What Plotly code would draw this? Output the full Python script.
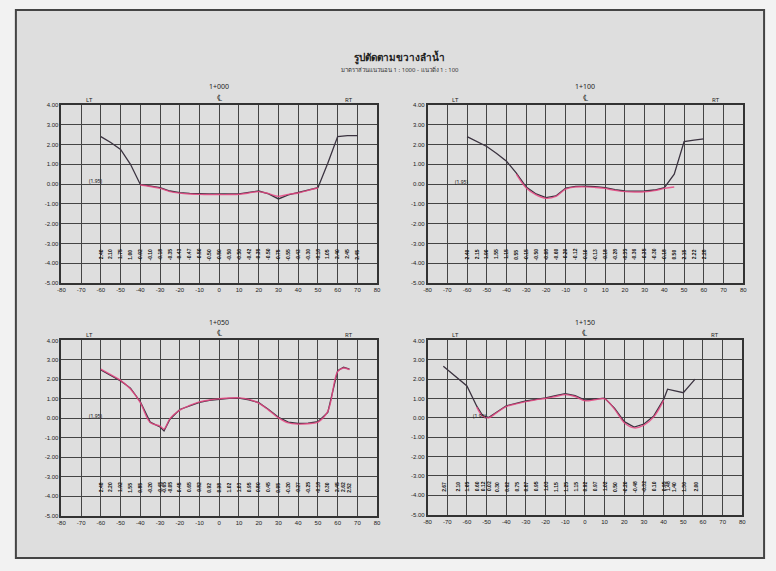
import plotly.graph_objects as go

# ---------------- data ----------------
panel_titles = ["1+000", "1+100", "1+050", "1+150"]
main_title = "รูปตัดตามขวางลำน้ำ"
sub_title = "มาตราส่วนแนวนอน 1 : 1000 - แนวดิ่ง 1 : 100"
level_label = "(1.95)"
side_labels = ["LT", "℄", "RT"]
side_label_x = [-66, 0, 66]
side_label_size = [6, 9, 6]

# panel 1 (top-left)
x1 = [-60, -55, -50, -45, -40, -35, -30, -25, -20, -15, -10, -5, 0, 5, 10, 15, 20, 25, 30, 35, 40, 45, 50, 55, 60, 65, 70]
g1 = [2.40, 2.10, 1.75, 1.00, -0.02, -0.10, -0.18, -0.35, -0.43, -0.47, -0.50, -0.50, -0.50, -0.50, -0.50, -0.42,
      -0.35, -0.50, -0.75, -0.55, -0.43, -0.30, -0.18, 1.05, 2.40, 2.45, 2.45]
p1 = [None, None, None, None, -0.05, -0.12, -0.22, -0.38, -0.46, -0.50, -0.52, -0.53, -0.53, -0.53, -0.52, -0.45,
      -0.38, -0.48, -0.62, -0.52, -0.45, -0.32, -0.20, None, None, None, None]

# panel 2 (top-right)
x2 = [-60, -55, -50, -45, -40, -35, -30, -25, -20, -15, -10, -5, 0, 5, 10, 15, 20, 25, 30, 35, 40, 45, 50, 55, 60]
g2 = [2.40, 2.15, 1.90, 1.55, 1.15, 0.55, -0.15, -0.50, -0.68, -0.60, -0.20, -0.12, -0.10, -0.13, -0.18, -0.28,
      -0.35, -0.36, -0.35, -0.30, -0.18, 0.50, 2.15, 2.22, 2.28]
p2 = [None, None, None, None, None, 0.50, -0.20, -0.55, -0.72, -0.62, -0.25, -0.15, -0.14, -0.17, -0.22, -0.32,
      -0.38, -0.40, -0.39, -0.33, -0.22, -0.15, None, None, None]

# panel 3 (bottom-left)
x3 = [-60, -55, -50, -45, -40, -35, -30, -28, -25, -20, -15, -10, -5, 0, 5, 10, 15, 20, 25, 30, 35, 40, 45, 50, 55, 60, 63, 66]
g3 = [2.48, 2.20, 1.92, 1.55, 0.85, -0.20, -0.45, -0.65, -0.05, 0.45, 0.65, 0.82, 0.92, 0.98, 1.02, 1.03, 0.95,
      0.80, 0.45, 0.05, -0.20, -0.27, -0.25, -0.18, 0.30, 2.45, 2.62, 2.52]
p3 = [2.52, 2.24, 1.95, 1.50, 0.80, -0.22, -0.40, -0.55, -0.02, 0.42, 0.66, 0.84, 0.94, 1.00, 1.04, 1.05, 0.97,
      0.78, 0.42, 0.02, -0.24, -0.30, -0.28, -0.20, 0.35, 2.40, 2.58, 2.50]

# panel 4 (bottom-right)
x4 = [-72, -65, -60, -55, -52, -49, -45, -40, -35, -30, -25, -20, -15, -10, -5, 0, 5, 10, 15, 20, 25, 30, 35, 40, 42, 45, 50, 56]
g4 = [2.67, 2.10, 1.65, 0.60, 0.12, 0.02, 0.30, 0.62, 0.75, 0.87, 0.95, 1.03, 1.15, 1.25, 1.15, 0.92, 0.97, 1.02,
      0.50, -0.20, -0.48, -0.32, 0.10, 0.95, 1.48, 1.40, 1.30, 2.00]
p4 = [None, None, None, 0.55, 0.08, 0.00, 0.26, 0.58, 0.72, 0.84, 0.93, 1.00, 1.10, 1.20, 1.10, 0.88, 0.93, 0.98,
      0.45, -0.25, -0.52, -0.38, 0.05, 0.90, None, None, None, None]

xs = [x1, x2, x3, x4]
gs = [g1, g2, g3, g4]
ps = [p1, p2, p3, p4]

x_ticks = list(range(-80, 81, 10))
y_ticks = [4, 3, 2, 1, 0, -1, -2, -3, -4, -5]

# ---------------- layout geometry ----------------
W, H = 776, 571
px_x = [(58, 377), (428, 747), (58, 377), (428, 746)]
px_y = [(103, 283), (103, 283), (341, 518), (341, 517)]
level_pos = [(-67, 0.15), (-67, 0.12), (-67, 0.10), (-58, 0.10)]

BG = "#dedede"
GRID = "#444444"

fig = go.Figure()

for i in range(4):
    n = "" if i == 0 else str(i + 1)
    xa = "x" + n
    ya = "y" + n
    fig.add_trace(go.Scatter(x=xs[i], y=gs[i], mode="lines", xaxis=xa, yaxis=ya,
                             line=dict(color="#3b3340", width=1.3), showlegend=False, hoverinfo="skip"))
    fig.add_trace(go.Scatter(x=xs[i], y=ps[i], mode="lines", xaxis=xa, yaxis=ya, connectgaps=False,
                             line=dict(color="rgba(232,70,130,0.85)", width=1.4, shape="spline"),
                             showlegend=False, hoverinfo="skip"))
    (x0, x1p), (yt, yb) = px_x[i], px_y[i]
    common = dict(showgrid=True, gridcolor=GRID, gridwidth=1.3, zeroline=False, showline=True,
                  linecolor="#333333", linewidth=1.5, mirror=True, ticks="",
                  tickfont=dict(size=6, color="#222222", family="Arial"))
    fig.layout["xaxis" + n] = dict(domain=[x0 / W, x1p / W], anchor=ya, range=[-80, 80],
                                   tickvals=x_ticks, ticktext=[str(t) for t in x_ticks], **common)
    fig.layout["yaxis" + n] = dict(domain=[1 - yb / H, 1 - yt / H], anchor=xa, range=[-5, 4],
                                   tickvals=y_ticks, ticktext=[f"{t:.2f}" for t in y_ticks], **common)
    # panel title
    fig.add_annotation(xref=xa + " domain", yref=ya + " domain", x=0.5, y=1.0, yanchor="middle", yshift=18,
                       text=panel_titles[i], showarrow=False, font=dict(size=7, color="#222"))
    # LT / CL / RT labels
    for lab, lx, ls in zip(side_labels, side_label_x, side_label_size):
        fig.add_annotation(xref=xa, yref=ya + " domain", x=lx, y=1.0, yanchor="bottom", yshift=-1,
                           text=lab, showarrow=False, font=dict(size=ls, color="#222"))
    # level label
    lx, ly = level_pos[i]
    fig.add_annotation(xref=xa, yref=ya, x=lx, y=ly, xanchor="left", yanchor="middle",
                       text=level_label, showarrow=False, font=dict(size=5, color="#111"))
    # vertical elevation labels
    for xv, gv in zip(xs[i], gs[i]):
        fig.add_annotation(xref=xa, yref=ya, x=xv, y=-3.55, text=f"<b>{gv:.2f}</b>", textangle=-90,
                           showarrow=False, font=dict(size=5, color="#111", family="Arial"))

# main title
fig.add_annotation(xref="paper", yref="paper", x=400 / W, y=1 - 45 / H, text="<b>" + main_title + "</b>",
                   showarrow=False, font=dict(size=10, color="#222"))
fig.add_annotation(xref="paper", yref="paper", x=400 / W, y=1 - 62 / H, text=sub_title,
                   showarrow=False, font=dict(size=6, color="#333"))

# page frame
fig.add_shape(type="rect", xref="paper", yref="paper", x0=12 / W, x1=768 / W, y0=1 - 561 / H, y1=1 - 7 / H,
              line=dict(color="#444444", width=2), fillcolor=BG, layer="below")

fig.update_layout(width=W, height=H, margin=dict(l=0, r=0, t=0, b=0),
                  paper_bgcolor="#f2f2f2", plot_bgcolor="rgba(0,0,0,0)",
                  font=dict(family="Noto Sans, DejaVu Sans, sans-serif"))

fig.write_html("out.html")
